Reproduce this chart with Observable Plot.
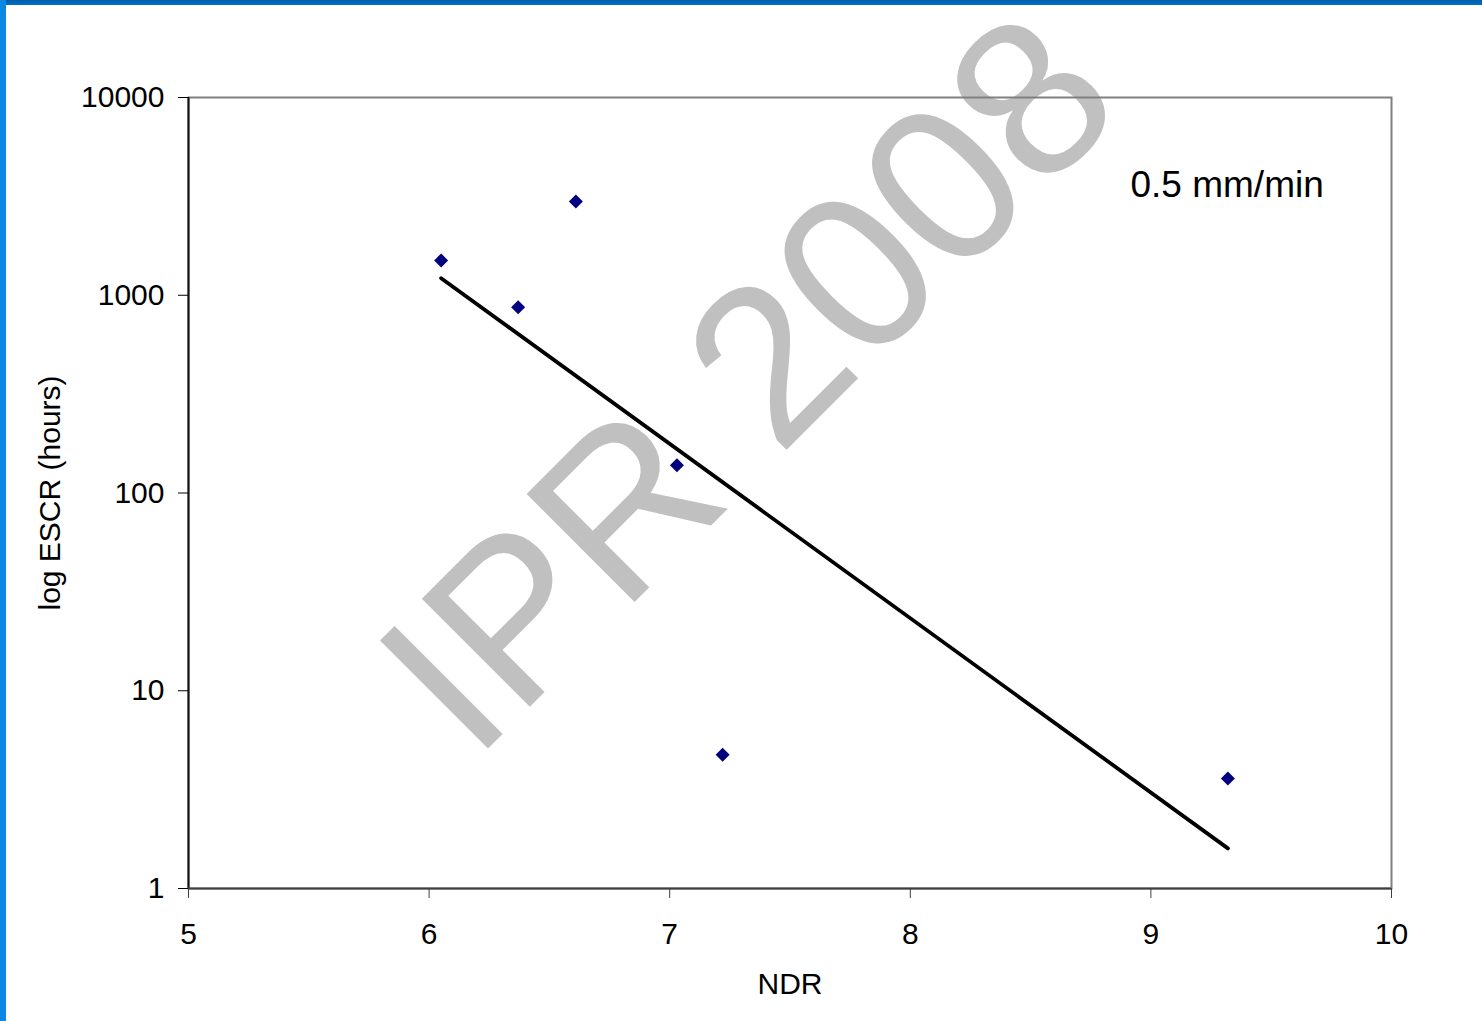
<!DOCTYPE html>
<html>
<head>
<meta charset="utf-8">
<script src="https://cdn.jsdelivr.net/npm/d3@7"></script>
<script src="https://cdn.jsdelivr.net/npm/@observablehq/plot@0.6"></script>
<style>
  html, body { margin: 0; padding: 0; background: #fff; overflow: hidden; }
  #wrap { position: relative; width: 1482px; height: 1021px; }
  #topbar { position: absolute; left: 0; top: 0; width: 1482px; height: 5px; background: linear-gradient(#005ba8, #0070c4); z-index: 2; }
  #leftbar { position: absolute; left: 0; top: 0; width: 6px; height: 1021px; background: #0a88e4; z-index: 2; }
  #chart { position: absolute; left: 0; top: 0; }
</style>
</head>
<body>
<div id="wrap">
  <div id="chart"></div>
  <div id="topbar"></div>
  <div id="leftbar"></div>
</div>
<script>
// Data
const ndr = [6.05, 6.37, 6.61, 7.03, 7.22, 9.32];
const escr = [1500, 870, 2980, 138, 4.75, 3.6];
const xTicks = [5, 6, 7, 8, 9, 10];
const yTicks = [1, 10, 100, 1000, 10000];
const seriesLabel = "0.5 mm/min";
const watermark = "IPR 2008";

const points = ndr.map((x, i) => ({x, y: escr[i]}));

// Exponential trend line (least squares on log10 y), like the spreadsheet trendline
const lx = ndr, ly = escr.map(v => Math.log10(v));
const mx = d3.mean(lx), my = d3.mean(ly);
const slope = d3.sum(lx, (x, i) => (x - mx) * (ly[i] - my)) / d3.sum(lx, x => (x - mx) ** 2);
const icpt = my - slope * mx;
const xr = d3.extent(ndr);
const trend = xr.map(x => ({x, y: Math.pow(10, icpt + slope * x)}));

const font = "'Liberation Sans', Arial, Helvetica, sans-serif";

const chart = Plot.plot({
  width: 1482,
  height: 1021,
  marginLeft: 188,
  marginRight: 91,
  marginTop: 97,
  marginBottom: 133,
  style: {fontFamily: font, fontSize: "30px", color: "#000", background: "transparent"},
  x: {domain: [5, 10], ticks: xTicks, tickSize: 10, tickPadding: 24, tickFormat: d => String(d), label: null},
  y: {type: "log", domain: [1, 10000], ticks: yTicks, tickSize: 10, tickPadding: 14, tickFormat: d => String(d), label: null},
  marks: [
    Plot.text([watermark], {frameAnchor: "top-left", dx: 562, dy: 288, rotate: -45, fontSize: 222, fill: "#c0c0c0", textAnchor: "middle", lineAnchor: "middle", fontFamily: font}),
    Plot.frame({stroke: "#808080", strokeWidth: 2}),
    Plot.ruleX([5], {stroke: "#111", strokeWidth: 2}),
    Plot.ruleY([1], {stroke: "#404040", strokeWidth: 2}),
    Plot.axisX({ticks: xTicks, tickSize: 10, tickPadding: 24, tickFormat: d => String(d), stroke: "#404040", label: null}),
    Plot.axisY({ticks: yTicks, tickSize: 10, tickPadding: 14, tickFormat: d => String(d), stroke: "#000", label: null}),
    Plot.line(trend, {x: "x", y: "y", stroke: "#000", strokeWidth: 3.8, strokeLinecap: "round"}),
    Plot.dot(points, {x: "x", y: "y", symbol: "diamond2", r: 6.3, fill: "#000080", stroke: "none"}),
    Plot.text([seriesLabel], {frameAnchor: "top-left", dx: 942, dy: 88, textAnchor: "start", lineAnchor: "middle", fontSize: 37, fill: "#000"}),
    Plot.text(["NDR"], {frameAnchor: "bottom", dy: 96, lineAnchor: "middle", fontSize: 30, fill: "#000"}),
    Plot.text(["log ESCR (hours)"], {frameAnchor: "left", dx: -138, rotate: -90, lineAnchor: "middle", textAnchor: "middle", fontSize: 30, fill: "#000"})
  ]
});
document.getElementById("chart").appendChild(chart);
</script>
</body>
</html>
